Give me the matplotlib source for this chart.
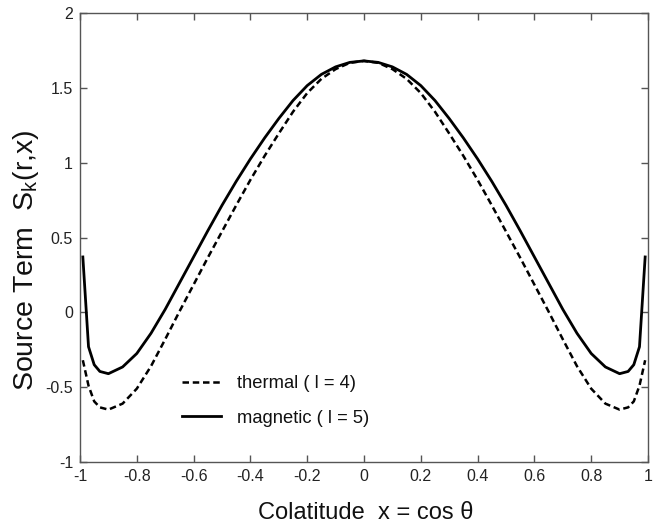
import matplotlib
matplotlib.use("Agg")
import matplotlib.pyplot as plt

plt.rcParams['font.family'] = ['Liberation Sans', 'DejaVu Sans']
plt.rcParams['mathtext.fontset'] = 'custom'
plt.rcParams['mathtext.rm'] = 'Liberation Sans'

# Colatitude grid (x = cos theta)
x = [-0.99, -0.97, -0.95, -0.93, -0.90, -0.85, -0.80, -0.75, -0.70, -0.65,
     -0.60, -0.55, -0.50, -0.45, -0.40, -0.35, -0.30, -0.25, -0.20, -0.15,
     -0.10, -0.05, 0.00, 0.05, 0.10, 0.15, 0.20, 0.25, 0.30, 0.35, 0.40,
     0.45, 0.50, 0.55, 0.60, 0.65, 0.70, 0.75, 0.80, 0.85, 0.90, 0.93,
     0.95, 0.97, 0.99]

# thermal (l = 4), dashed
thermal = [-0.32, -0.49, -0.595, -0.635, -0.65, -0.61, -0.51, -0.36, -0.18, 0.005,
           0.185, 0.365, 0.54, 0.715, 0.885, 1.045, 1.195, 1.34, 1.465, 1.56,
           1.625, 1.667, 1.68, 1.667, 1.625, 1.56, 1.465, 1.34, 1.195, 1.045, 0.885,
           0.715, 0.54, 0.365, 0.185, 0.005, -0.18, -0.36, -0.51, -0.61, -0.65, -0.635,
           -0.595, -0.49, -0.32]

# magnetic (l = 5), solid
magnetic = [0.37, -0.23, -0.35, -0.395, -0.41, -0.365, -0.275, -0.14, 0.02, 0.195,
            0.37, 0.545, 0.715, 0.875, 1.025, 1.165, 1.295, 1.415, 1.515, 1.59,
            1.64, 1.67, 1.68, 1.67, 1.64, 1.59, 1.515, 1.415, 1.295, 1.165, 1.025,
            0.875, 0.715, 0.545, 0.37, 0.195, 0.02, -0.14, -0.275, -0.365, -0.41, -0.395,
            -0.35, -0.23, 0.37]

xticks = [-1, -0.8, -0.6, -0.4, -0.2, 0, 0.2, 0.4, 0.6, 0.8, 1]
xticklabels = ['-1', '-0.8', '-0.6', '-0.4', '-0.2', '0', '0.2', '0.4', '0.6', '0.8', '1']
yticks = [-1, -0.5, 0, 0.5, 1, 1.5, 2]
yticklabels = ['-1', '-0.5', '0', '0.5', '1', '1.5', '2']

W, H = 665, 528
fig = plt.figure(figsize=(W / 100, H / 100), dpi=100)
ax = fig.add_axes([80 / W, (H - 462) / H, (648 - 80) / W, (462 - 13) / H])

ax.plot(x, thermal, color='black', lw=1.8, linestyle=(0, (2.6, 1.5)),
        label='thermal ( l = 4)')
ax.plot(x, magnetic, color='black', lw=2.0, linestyle='-',
        label='magnetic ( l = 5)')

ax.set_xlim(-1, 1)
ax.set_ylim(-1, 2)
ax.set_xticks(xticks)
ax.set_xticklabels(xticklabels)
ax.set_yticks(yticks)
ax.set_yticklabels(yticklabels)

spine_c = '#555555'
for s in ax.spines.values():
    s.set_color(spine_c)
    s.set_linewidth(1.0)
ax.tick_params(direction='in', length=5, width=1, color=spine_c,
               top=True, right=True, labelsize=11.5, labelcolor='#222222',
               pad=5)

leg = ax.legend(loc='upper left', bbox_to_anchor=(182 / W, (H - 375) / H),
                bbox_transform=fig.transFigure, frameon=False, fontsize=13.2,
                handlelength=2.13, handletextpad=0.87, labelspacing=0.97,
                borderpad=0, borderaxespad=0)
for t in leg.get_texts():
    t.set_color('#111111')

fig.text(366 / W, (H - 513) / H, 'Colatitude  x = cos θ', ha='center', va='center',
         fontsize=17, color='#111111')
fig.text(26 / W, (H - 260) / H, 'Source Term  S$_\\mathregular{k}$(r,x)', ha='center',
         va='center', rotation=90, fontsize=20.5, color='#111111')

fig.savefig('out.png', dpi=100)
